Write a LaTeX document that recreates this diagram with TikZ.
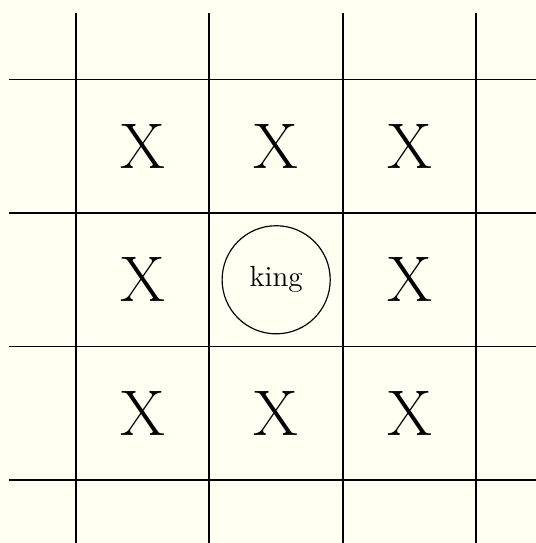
\documentclass[tikz,border=0pt]{standalone}
\usepackage{xcolor}
\definecolor{boardbg}{HTML}{FFFFF2}

\begin{document}
\begin{tikzpicture}[
  x=2cm,y=2cm,
  gridline/.style={draw,line width=0.8pt},
  reach/.style={font=\fontsize{27.5}{30}\selectfont,inner sep=0pt},
  king/.style={draw,circle,line width=0.5pt,minimum size=1.62cm,inner sep=0pt,font=\fontsize{12.4}{14}\selectfont}]

% Background and frame of the picture.
\fill[boardbg] (-0.569,-0.472) rectangle (3.446,3.596);
\useasboundingbox (-0.569,-0.472) rectangle (3.446,3.596);

% Vertical lines.
\draw[gridline] (0,-0.5) -- (0,3.5);
\draw[gridline] (1,-0.5) -- (1,3.5);
\draw[gridline] (2,-0.5) -- (2,3.5);
\draw[gridline] (3,-0.5) -- (3,3.5);

% Horizontal lines.
\draw[gridline] (-0.5,0) -- (3.5,0);
\draw[gridline] (-0.5,1) -- (3.5,1);
\draw[gridline] (-0.5,2) -- (3.5,2);
\draw[gridline] (-0.5,3) -- (3.5,3);

% The king and the squares it can reach.
\node[king] (k) at (1.5,1.5) {king};
\node[reach] (nw) at (0.5,2.5) {X};
\node[reach] (n)  at (1.5,2.5) {X};
\node[reach] (ne) at (2.5,2.5) {X};
\node[reach] (w)  at (0.5,1.5) {X};
\node[reach] (e)  at (2.5,1.5) {X};
\node[reach] (sw) at (0.5,0.5) {X};
\node[reach] (s)  at (1.5,0.5) {X};
\node[reach] (se) at (2.5,0.5) {X};
\end{tikzpicture}
\end{document}
